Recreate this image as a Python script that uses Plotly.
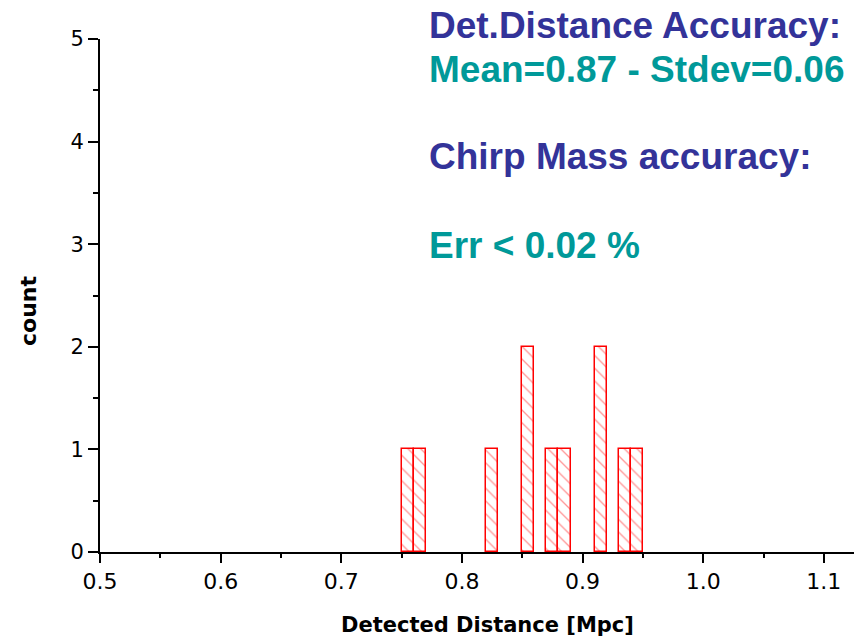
import plotly.graph_objects as go

# Data: histogram bins (left edge) and counts
bin_left = [0.75, 0.76, 0.82, 0.85, 0.87, 0.88, 0.91, 0.93, 0.94]
counts = [1, 1, 1, 2, 1, 1, 2, 1, 1]
bin_width = 0.01
x_ticks = [0.5, 0.6, 0.7, 0.8, 0.9, 1.0, 1.1]
x_tick_text = ["0.5", "0.6", "0.7", "0.8", "0.9", "1.0", "1.1"]
y_ticks = [0, 1, 2, 3, 4, 5]

W, H = 854, 638
L, R, T, B = 100, 0, 39, 86

def py(px):
    return 1 - (px - T) / (H - T - B)

def pxx(px):
    return (px - L) / (W - L - R)

centers = [b + bin_width / 2 for b in bin_left]

fig = go.Figure()
fig.add_trace(go.Bar(
    x=centers, y=counts, width=bin_width,
    marker=dict(color="white", line=dict(color="#ff0000", width=1.5),
                pattern=dict(shape="\\", fgcolor="#ff3030", bgcolor="white", size=9, solidity=0.15)),
    showlegend=False,
))

blue = "#333399"
teal = "#009999"
big = dict(family="Liberation Sans, Arial", size=37, weight="bold")
lines = [
    ("Det.Distance Accuracy:", blue, 25),
    ("Mean=0.87 - Stdev=0.06", teal, 70),
    ("Chirp Mass accuracy:", blue, 156),
    ("Err < 0.02 %", teal, 246),
]
for txt, col, ypx in lines:
    fig.add_annotation(text=txt, xref="paper", yref="paper", x=pxx(427), y=py(ypx),
                       xanchor="left", yanchor="middle", showarrow=False,
                       font=dict(color=col, **big))

fig.add_annotation(text="Detected Distance [Mpc]", xref="paper", yref="paper",
                   x=pxx(487), y=py(625), xanchor="center", yanchor="middle", showarrow=False,
                   font=dict(family="DejaVu Sans", size=21, weight="bold", color="black"))
fig.add_annotation(text="count", xref="paper", yref="paper", textangle=-90,
                   x=pxx(28), y=py(311), xanchor="center", yanchor="middle", showarrow=False,
                   font=dict(family="DejaVu Sans", size=22, weight="bold", color="black"))

fig.update_xaxes(range=[0.5, 1.125], tickvals=x_ticks, ticktext=x_tick_text,
                 ticks="outside", ticklen=9, tickwidth=2, tickcolor="black",
                 showline=True, linecolor="black", linewidth=2, showgrid=False, zeroline=False,
                 minor=dict(dtick=0.05, tick0=0.5, ticks="outside", ticklen=4, tickwidth=1.5, tickcolor="black", showgrid=False),
                 tickfont=dict(family="DejaVu Sans", size=22, color="black"))
fig.update_yaxes(range=[0, 5], tickvals=y_ticks,
                 ticks="outside", ticklen=10, tickwidth=2, tickcolor="black",
                 showline=True, linecolor="black", linewidth=2, showgrid=False, zeroline=False,
                 minor=dict(dtick=0.5, tick0=0, ticks="outside", ticklen=5, tickwidth=1.5, tickcolor="black", showgrid=False),
                 tickfont=dict(family="DejaVu Sans", size=21, color="black"))

fig.update_layout(width=W, height=H, margin=dict(l=L, r=R, t=T, b=B, pad=0),
                  paper_bgcolor="white", plot_bgcolor="white", bargap=0)
fig.write_html("out.html")
